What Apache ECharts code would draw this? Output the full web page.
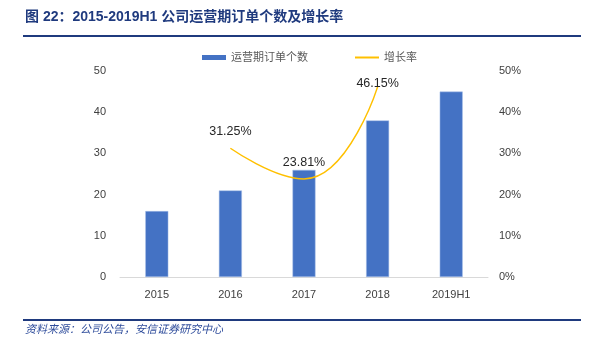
<!DOCTYPE html>
<html><head><meta charset="utf-8">
<script src="https://cdn.jsdelivr.net/npm/echarts@6/dist/echarts.min.js"></script>
<style>html,body{margin:0;padding:0;background:#fff}#c{width:602px;height:340px}</style>
</head><body><div id="c"></div>
<script>
var categories = ['2015', '2016', '2017', '2018', '2019H1'];
var orders = [16, 21, 26, 38, 45];
var growth = [null, 31.25, 23.81, 46.15, null];
var leftTicks = [0, 10, 20, 30, 40, 50];
var rightTicks = [0, 10, 20, 30, 40, 50];

var labelDistance = [10, 10, 10, -3, 10];
var growthData = growth.map(function (v, i) {
  return {value: v, label: {distance: labelDistance[i]}};
});

var chart = echarts.init(document.getElementById('c'), null, {renderer: 'canvas'});
var font = 'Arial, "Liberation Sans", "Noto Sans CJK SC", sans-serif';
chart.setOption({
  animation: false,
  backgroundColor: '#fff',
  graphic: [
    {type: 'text', left: 25, top: 10, style: {text: '图 22：2015-2019H1 公司运营期订单个数及增长率', font: 'bold 14px ' + font, fill: '#1F3A7E'}},
    {type: 'rect', shape: {x: 23, y: 35, width: 558, height: 2}, style: {fill: '#1F3A7E'}},
    {type: 'rect', shape: {x: 23, y: 319, width: 558, height: 2}, style: {fill: '#1F3A7E'}},
    {type: 'text', left: 25, top: 323, style: {text: '资料来源：公司公告，安信证券研究中心', font: 'italic 11px "Noto Sans CJK SC", sans-serif', fill: '#2E4C9B'}}
  ],
  legend: {
    top: 47, left: 197,
    itemWidth: 24, itemHeight: 5, itemGap: 47,
    textStyle: {fontSize: 11, color: '#595959', fontFamily: font},
    data: [
      {name: '运营期订单个数', icon: 'rect', itemStyle: {borderWidth: 0}},
      {name: '增长率', icon: 'path://M0,0 L24,0 L24,2 L0,2 Z', itemStyle: {color: '#FFC000'}}
    ]
  },
  grid: {left: 120, right: 114, top: 71, bottom: 63},
  xAxis: {
    type: 'category', data: categories,
    axisLine: {lineStyle: {color: '#D9D9D9'}},
    axisTick: {show: false},
    axisLabel: {color: '#404040', fontSize: 11, margin: 12, fontFamily: font}
  },
  yAxis: [{
    type: 'value', min: 0, max: 50, interval: 10,
    axisLine: {show: false}, axisTick: {show: false}, splitLine: {show: false},
    axisLabel: {color: '#404040', fontSize: 11, margin: 14, fontFamily: font}
  }, {
    type: 'value', min: 0, max: 50, interval: 10,
    axisLine: {show: false}, axisTick: {show: false}, splitLine: {show: false},
    axisLabel: {color: '#404040', fontSize: 11, margin: 11, formatter: '{value}%', fontFamily: font}
  }],
  series: [{
    name: '运营期订单个数', type: 'bar', data: orders, barWidth: 23,
    itemStyle: {color: '#4472C4', borderColor: '#A9C1E8', borderWidth: 0.5}
  }, {
    name: '增长率', type: 'line', yAxisIndex: 1, data: growthData, smooth: 0.5,
    showSymbol: true, symbol: 'circle', symbolSize: 0.01, connectNulls: false,
    lineStyle: {color: '#FFC000', width: 1.5}, itemStyle: {color: '#FFC000'},
    label: {show: true, position: 'top', distance: 10, color: '#262626', fontSize: 12.5, fontFamily: font,
      formatter: function (p) { return p.value == null ? '' : p.value.toFixed(2) + '%'; }}
  }]
});
</script></body></html>
